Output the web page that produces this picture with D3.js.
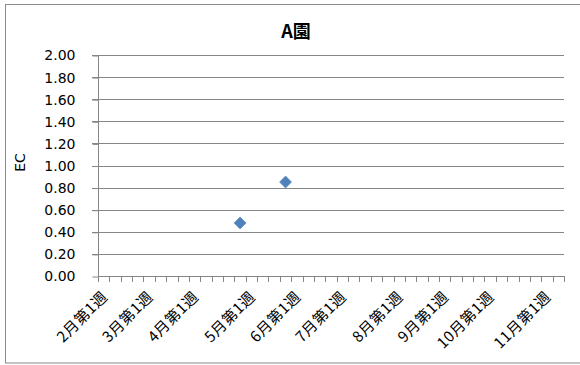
<!DOCTYPE html>
<html>
<head>
<meta charset="utf-8">
<script src="https://cdn.jsdelivr.net/npm/d3@7"></script>
<style>
  html, body { margin: 0; padding: 0; background: #fff; }
  svg { display: block; }
</style>
</head>
<body>
<svg id="chart" width="580" height="365"></svg>
<script>
// Weeks per month on the category axis (Feb .. Nov)
const months = ["2月", "3月", "4月", "5月", "6月", "7月", "8月", "9月", "10月", "11月"];
const weeksPerMonth = [4, 4, 5, 4, 4, 5, 4, 4, 5, 2];

// Measured EC readings
const ecWeeks = ["4月第5週", "5月第4週"];
const ecValues = [0.48, 0.85];

// Y axis ticks
const yTicks = [0, 0.2, 0.4, 0.6, 0.8, 1.0, 1.2, 1.4, 1.6, 1.8, 2.0];

const title = "A園";
const yTitle = "EC";

// Full list of weekly categories
const categories = [];
months.forEach((m, i) => {
  for (let w = 1; w <= weeksPerMonth[i]; w++) categories.push(m + "第" + w + "週");
});

const svg = d3.select("#chart");
const plotLeft = 98, plotRight = 564, plotTop = 55, plotBottom = 276;

const x = d3.scaleBand().domain(categories).range([plotLeft, plotRight]).paddingInner(0).paddingOuter(0);
const y = d3.scaleLinear().domain([0, 2]).range([plotBottom, plotTop]);

// Outer chart border
svg.append("rect")
  .attr("x", 5.5).attr("y", 4.5).attr("width", 590).attr("height", 358.5)
  .attr("fill", "#fff").attr("stroke", "#8a8a8a").attr("stroke-width", 1);

// Horizontal gridlines
svg.append("g")
  .selectAll("line")
  .data(yTicks.filter(d => d > 0))
  .join("line")
  .attr("x1", plotLeft - 6).attr("x2", plotRight)
  .attr("y1", d => Math.round(y(d)) + 0.5).attr("y2", d => Math.round(y(d)) + 0.5)
  .attr("stroke", "#868686").attr("stroke-width", 1);

// Y axis
const yAxis = d3.axisLeft(y).tickValues(yTicks).tickFormat(d3.format(".2f")).tickSize(6).tickPadding(17);
const gy = svg.append("g").attr("transform", `translate(${plotLeft + 0.5},0.5)`).call(yAxis);
gy.select(".domain").attr("stroke", "#868686").attr("d", `M0,${plotTop}V${plotBottom}`);
gy.selectAll(".tick line").attr("stroke", "#868686");
gy.selectAll(".tick text")
  .attr("font-family", "'DejaVu Sans', sans-serif")
  .attr("font-size", 14).attr("fill", "#000");

// X axis: tick marks on category boundaries
const boundaries = categories.map(c => x(c)).concat([plotRight]);
svg.append("line")
  .attr("x1", plotLeft).attr("x2", plotRight + 0.5)
  .attr("y1", plotBottom + 0.5).attr("y2", plotBottom + 0.5)
  .attr("stroke", "#868686");
svg.append("g")
  .selectAll("line")
  .data(boundaries)
  .join("line")
  .attr("x1", d => Math.round(d) + 0.5).attr("x2", d => Math.round(d) + 0.5)
  .attr("y1", plotBottom).attr("y2", plotBottom + 6)
  .attr("stroke", "#868686");

// Category labels: only the first week of each month is named
svg.append("g")
  .selectAll("text")
  .data(categories.filter(c => c.endsWith("第1週")))
  .join("text")
  .attr("transform", d => `translate(${x(d) + x.bandwidth() / 2 + 2},${plotBottom + 19}) rotate(-45)`)
  .attr("text-anchor", "end")
  .attr("dominant-baseline", "middle")
  .attr("font-family", "'Noto Sans CJK JP', sans-serif")
  .attr("font-size", 15)
  .attr("letter-spacing", 0.5)
  .attr("fill", "#000")
  .text(d => d);

// Title
svg.append("text")
  .attr("x", 296).attr("y", 33)
  .attr("text-anchor", "middle").attr("dominant-baseline", "middle")
  .attr("font-family", "'Noto Sans CJK JP', sans-serif")
  .attr("font-weight", "bold").attr("font-size", 18)
  .text(title);

// Y axis title
svg.append("text")
  .attr("transform", `translate(21,${(plotTop + plotBottom) / 2 - 3}) rotate(-90)`)
  .attr("text-anchor", "middle").attr("dominant-baseline", "middle")
  .attr("font-family", "'DejaVu Sans', sans-serif")
  .attr("font-size", 14)
  .text(yTitle);

// EC markers (diamonds)
svg.append("g")
  .selectAll("path")
  .data(ecWeeks.map((w, i) => ({ week: w, value: ecValues[i] })))
  .join("path")
  .attr("d", d3.symbol(d3.symbolSquare, 72))
  .attr("transform", d => `translate(${x(d.week) + x.bandwidth() / 2},${y(d.value)}) rotate(45)`)
  .attr("fill", "#4f81bd")
  .attr("stroke", "#4a7ab4").attr("stroke-width", 0.5);
</script>
</body>
</html>
